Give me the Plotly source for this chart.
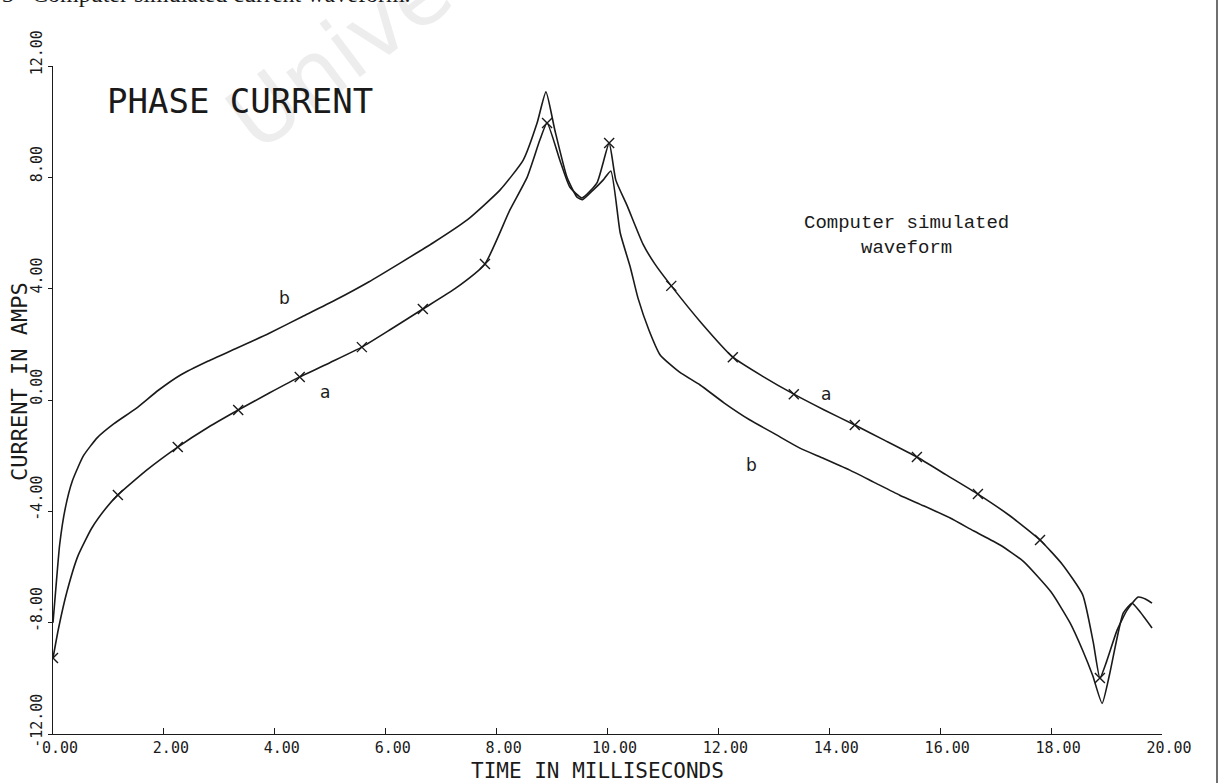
import plotly.graph_objects as go

# ---------------- data ----------------
# curve a (marked with x)
a_time = [0.00, 0.10, 0.25, 0.45, 0.70, 0.95, 1.17, 1.70, 2.25, 2.80, 3.34, 3.90,
          4.45, 5.00, 5.57, 6.10, 6.67, 7.25, 7.79, 8.24, 8.55, 8.78, 8.91, 9.14,
          9.32, 9.54, 9.81, 10.03, 10.15, 10.35, 10.64, 10.85, 11.15, 11.70, 12.26,
          12.80, 13.36, 13.90, 14.46, 15.00, 15.58, 16.10, 16.68, 17.25, 17.80,
          18.20, 18.57, 18.76, 18.88, 19.00, 19.19, 19.37, 19.57, 19.70, 19.82]
a_current = [-9.27, -8.20, -6.90, -5.60, -4.60, -3.90, -3.41, -2.50, -1.69, -0.98,
             -0.36, 0.25, 0.83, 1.35, 1.90, 2.55, 3.27, 4.00, 4.89, 6.83, 8.00, 9.34,
             9.95, 8.62, 7.65, 7.26, 7.80, 9.23, 7.90, 7.00, 5.60, 4.90, 4.10, 2.75,
             1.54, 0.85, 0.21, -0.35, -0.90, -1.45, -2.05, -2.68, -3.38, -4.15, -5.03,
             -5.90, -7.00, -8.70, -9.99, -9.40, -8.27, -7.55, -7.08, -7.15, -7.30]

# x-marker positions on curve a
a_mark_time = [0.00, 1.17, 2.25, 3.34, 4.45, 5.57, 6.67, 7.79, 8.91, 10.03, 11.15,
               12.26, 13.36, 14.46, 15.58, 16.68, 17.80, 18.88]
a_mark_current = [-9.27, -3.41, -1.69, -0.36, 0.83, 1.90, 3.27, 4.89, 9.95, 9.23, 4.10,
                  1.54, 0.21, -0.90, -2.05, -3.38, -5.03, -9.99]

# curve b (no markers)
b_time = [0.00, 0.05, 0.12, 0.22, 0.35, 0.55, 0.80, 1.10, 1.50, 1.90, 2.30, 2.80,
          3.30, 3.90, 4.50, 5.10, 5.70, 6.26, 6.85, 7.47, 8.06, 8.48, 8.73, 8.89,
          9.05, 9.27, 9.45, 9.55, 9.74, 9.92, 10.06, 10.23, 10.41, 10.55, 10.75,
          10.95, 11.30, 11.67, 12.10, 12.57, 13.00, 13.47, 13.90, 14.37, 14.80,
          15.27, 15.70, 16.18, 16.60, 17.08, 17.50, 18.00, 18.34, 18.57, 18.75,
          18.92, 19.05, 19.30, 19.46, 19.60, 19.82]
b_current = [-8.00, -6.80, -5.20, -3.90, -2.90, -2.00, -1.35, -0.85, -0.30, 0.35,
             0.90, 1.40, 1.85, 2.40, 3.00, 3.60, 4.25, 4.92, 5.64, 6.47, 7.54, 8.62,
             9.95, 11.07, 9.70, 8.00, 7.29, 7.20, 7.54, 7.90, 8.23, 6.00, 4.78, 3.66,
             2.50, 1.62, 1.00, 0.54, -0.10, -0.72, -1.20, -1.73, -2.10, -2.52, -2.95,
             -3.42, -3.80, -4.24, -4.70, -5.21, -5.80, -6.90, -8.00, -9.00, -9.90,
             -10.90, -9.90, -7.66, -7.30, -7.60, -8.19]

# curve labels
label_text = ["b", "a", "a", "b"]
label_time = [4.18, 4.90, 13.94, 12.60]
label_current = [3.66, 0.29, 0.21, -2.34]

x_tick_vals = [0, 2, 4, 6, 8, 10, 12, 14, 16, 18, 20]
x_tick_text = ["0.00", "2.00", "4.00", "6.00", "8.00", "10.00", "12.00", "14.00",
               "16.00", "18.00", "20.00"]
y_tick_vals = [-12, -8, -4, 0, 4, 8, 12]
y_tick_text = ["-12.00", "-8.00", "-4.00", "0.00", "4.00", "8.00", "12.00"]

# ---------------- figure ----------------
W, H = 1226, 783
# plot-area edges in page pixels
X0, X1, Y0, Y1 = 53, 1162, 66, 734


def px(xp):
    return xp / W


def py(yp):
    return (H - yp) / H


ink = "#1a1a1a"
mono = "DejaVu Sans Mono"

fig = go.Figure()
fig.add_trace(go.Scatter(x=b_time, y=b_current, mode="lines",
                         line=dict(color=ink, width=1.6, shape="spline", smoothing=0.5),
                         hoverinfo="skip", showlegend=False))
fig.add_trace(go.Scatter(x=a_time, y=a_current, mode="lines",
                         line=dict(color=ink, width=1.6, shape="spline", smoothing=0.5),
                         hoverinfo="skip", showlegend=False))
fig.add_trace(go.Scatter(x=a_mark_time, y=a_mark_current, mode="markers",
                         marker=dict(symbol="x-thin", size=10,
                                     line=dict(color=ink, width=1.4)),
                         hoverinfo="skip", showlegend=False))

annotations = []
for t, xv, yv in zip(label_text, label_time, label_current):
    annotations.append(dict(x=xv, y=yv, xref="x", yref="y", text=t, showarrow=False,
                            font=dict(family="DejaVu Sans", size=17, color=ink),
                            xanchor="center", yanchor="middle"))

annotations += [
    dict(x=px(416), y=py(-4), xref="paper", yref="paper",
         text="University", showarrow=False, textangle=-37,
         xanchor="center", yanchor="middle",
         font=dict(family="DejaVu Sans", size=88, color="#ededed")),
    dict(x=px(105), y=py(101), xref="paper", yref="paper", text="PHASE CURRENT",
         showarrow=False, xanchor="left", yanchor="middle",
         font=dict(family=mono, size=34, color=ink)),
    dict(x=px(906), y=py(235), xref="paper", yref="paper",
         text="Computer simulated<br>waveform", showarrow=False,
         xanchor="center", yanchor="middle", align="center",
         font=dict(family="Liberation Mono", size=19, color=ink)),
    dict(x=px(597), y=py(771), xref="paper", yref="paper",
         text="TIME IN MILLISECONDS", showarrow=False,
         xanchor="center", yanchor="middle",
         font=dict(family=mono, size=21, color=ink)),
    dict(x=px(19), y=py(382), xref="paper", yref="paper",
         text="CURRENT IN AMPS", showarrow=False, textangle=-90,
         xanchor="center", yanchor="middle",
         font=dict(family=mono, size=22, color=ink)),
    dict(x=px(0), y=py(-6), xref="paper", yref="paper",
         text="3   Computer simulated current waveform.", showarrow=False,
         xanchor="left", yanchor="middle",
         font=dict(family="Liberation Serif", size=24, color=ink)),
]

fig.update_layout(
    width=W, height=H,
    margin=dict(l=0, r=0, t=0, b=0, pad=0, autoexpand=False),
    paper_bgcolor="white", plot_bgcolor="white",
    annotations=annotations,
    shapes=[dict(type="line", xref="paper", yref="paper", layer="above",
                 x0=px(1217), x1=px(1217), y0=0, y1=1,
                 line=dict(color="#333333", width=1.4))],
    xaxis=dict(domain=[px(X0), px(X1)], range=[0, 20], tickmode="array",
               tickvals=x_tick_vals, ticktext=x_tick_text,
               showgrid=False, zeroline=False, automargin=False,
               showline=True, linecolor=ink, linewidth=1.3,
               ticks="inside", ticklen=6, tickcolor=ink, tickwidth=1.2,
               tickfont=dict(family=mono, size=15, color=ink),
               ticklabelshift=7),
    yaxis=dict(domain=[py(Y1), py(Y0)], range=[-12, 12], tickmode="array",
               tickvals=y_tick_vals, ticktext=y_tick_text,
               showgrid=False, zeroline=False, automargin=False,
               showline=True, linecolor=ink, linewidth=1.3,
               ticks="outside", ticklen=4, tickcolor=ink, tickwidth=1.2,
               tickangle=-90, tickfont=dict(family=mono, size=15, color=ink),
               ticklabelshift=-11),
)

fig.write_html("out.html",
               config={"displayModeBar": False},
               post_script="document.body.style.margin='0px';"
                           "document.body.style.overflow='hidden';")
